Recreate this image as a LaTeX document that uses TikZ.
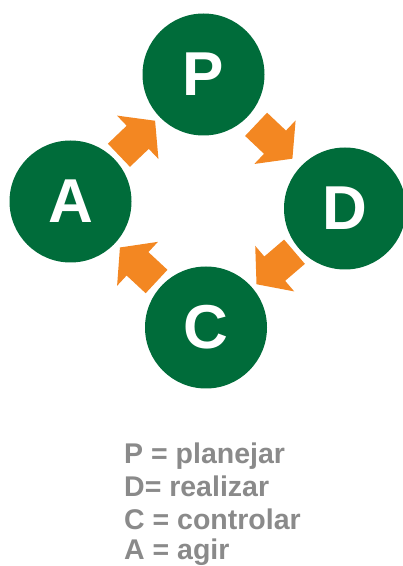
\documentclass[tikz,border=0pt]{standalone}
\usepackage{fontspec}
\setmainfont{Liberation Sans}
\definecolor{pdcagreen}{RGB}{0,108,58}
\definecolor{pdcaorange}{RGB}{243,135,34}
\definecolor{legendgray}{RGB}{138,138,138}
\tikzset{
  stage/.style={circle, fill=pdcagreen, text=white, minimum size=122pt, inner sep=0pt,
    font=\bfseries\fontsize{62}{62}\selectfont},
  legend/.style={anchor=base west, inner sep=0pt, text=legendgray,
    font=\bfseries\fontsize{28.5}{28.5}\selectfont},
  blockarrow/.pic={
    \fill[pdcaorange] (-25,-16) -- (1,-16) -- (1,-30) -- (25,0) -- (1,30) -- (1,16) -- (-25,16) -- cycle;
  }
}
\begin{document}
\begin{tikzpicture}[x=1pt,y=1pt]
\useasboundingbox (0,0) rectangle (403,566);
\node[stage] (P) at (203.5,491.5) {P};
\node[stage] (A) at (70.5,364.5) {A};
\node[stage] (D) at (345,357.5) {D};
\node[stage] (C) at (206,238.5) {C};
\path (A) -- (P) pic[pos=0.5, sloped, allow upside down] {blockarrow};
\path (P) -- (D) pic[pos=0.5, sloped, allow upside down] {blockarrow};
\path (D) -- (C) pic[pos=0.5, sloped, allow upside down] {blockarrow};
\path (C) -- (A) pic[pos=0.5, sloped, allow upside down] {blockarrow};
\node[legend] (l1) at (124,102) {P = planejar};
\node[legend] (l2) at (124,69) {D= realizar};
\node[legend] (l3) at (124,36) {C = controlar};
\node[legend] (l4) at (124,6.5) {A = agir};
\end{tikzpicture}
\end{document}
